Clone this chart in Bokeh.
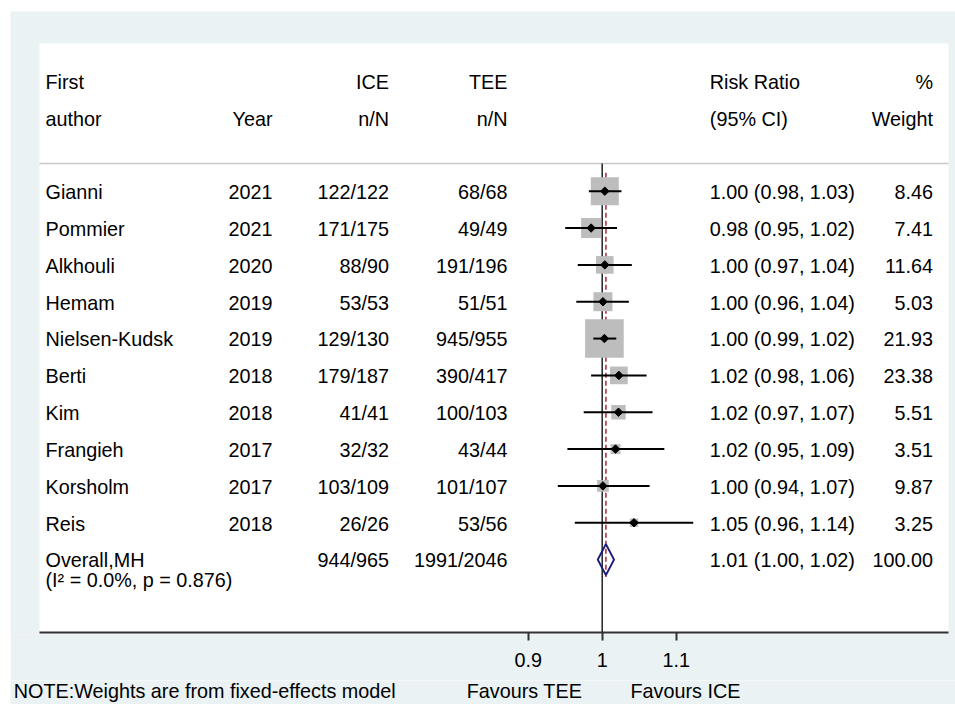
from bokeh.plotting import figure
from bokeh.models import Range1d, ColumnDataSource, FixedTicker, BoxAnnotation
from bokeh.layouts import column
from bokeh.core.properties import value
from bokeh.embed import file_html
from bokeh.resources import INLINE

# ---------------- data ----------------
authors = ["Gianni", "Pommier", "Alkhouli", "Hemam", "Nielsen-Kudsk", "Berti",
           "Kim", "Frangieh", "Korsholm", "Reis"]
years = ["2021", "2021", "2020", "2019", "2019", "2018", "2018", "2017", "2017", "2018"]
ice_nN = ["122/122", "171/175", "88/90", "53/53", "129/130", "179/187", "41/41",
          "32/32", "103/109", "26/26"]
tee_nN = ["68/68", "49/49", "191/196", "51/51", "945/955", "390/417", "100/103",
          "43/44", "101/107", "53/56"]
rr_ci_text = ["1.00 (0.98, 1.03)", "0.98 (0.95, 1.02)", "1.00 (0.97, 1.04)",
              "1.00 (0.96, 1.04)", "1.00 (0.99, 1.02)", "1.02 (0.98, 1.06)",
              "1.02 (0.97, 1.07)", "1.02 (0.95, 1.09)", "1.00 (0.94, 1.07)",
              "1.05 (0.96, 1.14)"]
weight_text = ["8.46", "7.41", "11.64", "5.03", "21.93", "23.38", "5.51", "3.51",
               "9.87", "3.25"]
rr = [1.0035, 0.985, 1.0035, 1.001, 1.003, 1.0225, 1.022, 1.018, 1.001, 1.043]
ci_low = [0.982, 0.950, 0.967, 0.965, 0.988, 0.985, 0.975, 0.953, 0.940, 0.963]
ci_high = [1.026, 1.020, 1.040, 1.036, 1.019, 1.060, 1.068, 1.084, 1.064, 1.123]
box_rel_area = [0.526, 0.268, 0.208, 0.242, 1.0, 0.210, 0.141, 0.067, 0.092, 0.048]

overall_label = "Overall,MH"
overall_het = "(I\u00b2 = 0.0%, p = 0.876)"
overall_ice = "944/965"
overall_tee = "1991/2046"
overall_text = "1.01 (1.00, 1.02)"
overall_weight = "100.00"
overall_rr = 1.005
overall_low = 0.994
overall_high = 1.016

ticks = [0.9, 1.0, 1.1]
tick_labels = ["0.9", "1", "1.1"]

footer_note = "NOTE:Weights are from fixed-effects model"
favours_left = "Favours TEE"
favours_right = "Favours ICE"

# ---------------- layout helpers ----------------
FONT = value("Liberation Sans")
FS = value("19.8px")
BG = "#EAF2F3"
PX_PER_UNIT = 740.0
X_ONE_PX = 601.7
PANEL_L, PANEL_R, PANEL_T, PANEL_B = 39.0, 948.0, 43.0, 632.0
FIG_L, FIG_T, FIG_R, SPLIT, FIG_B = 10, 11, 955, 680, 704
FRAME_B = 634
ROW0_PX, ROW_STEP = 190.7, 36.84
BASE_FIX = -7.5  # rendered alphabetic baseline correction


def px2x(px):
    return 1 + (px - X_ONE_PX) / PX_PER_UNIT


def py2y(py):
    return (py - ROW0_PX) / ROW_STEP


n = len(authors)
rows = list(range(n))
overall_row = n

p = figure(width=FIG_R - FIG_L, height=SPLIT - FIG_T,
           x_range=Range1d(px2x(FIG_L), px2x(FIG_R)),
           y_range=Range1d(py2y(FRAME_B), py2y(FIG_T)),
           output_backend="svg", toolbar_location=None,
           y_axis_location=None,
           min_border_left=0, min_border_right=0, min_border_top=0,
           min_border_bottom=SPLIT - FRAME_B,
           background_fill_color=BG, border_fill_color=BG,
           outline_line_color=None)
p.grid.visible = False

# white plot panel
p.add_layout(BoxAnnotation(left=px2x(PANEL_L), right=px2x(PANEL_R),
                           top=py2y(PANEL_T), bottom=py2y(PANEL_B),
                           fill_color="white", fill_alpha=1.0, line_color=None,
                           level="underlay"))

# axis (line drawn separately so it spans only the panel)
ax = p.xaxis[0]
ax.ticker = FixedTicker(ticks=ticks)
ax.major_label_overrides = {t: l for t, l in zip(ticks, tick_labels)}
ax.axis_line_color = None
ax.major_tick_line_color = "#333333"
ax.major_tick_line_width = 2
ax.major_tick_out = 6
ax.major_tick_in = 2
ax.minor_tick_line_color = None
ax.major_label_text_font = "Liberation Sans"
ax.major_label_text_font_size = "19.8px"
ax.major_label_text_color = "black"
ax.major_label_standoff = 12

p.segment(x0=[px2x(PANEL_L)], y0=[py2y(PANEL_B)], x1=[px2x(PANEL_R)], y1=[py2y(PANEL_B)],
          line_color="#333333", line_width=2)

# header separator
p.segment(x0=[px2x(PANEL_L)], y0=[py2y(163)], x1=[px2x(PANEL_R)], y1=[py2y(163)],
          line_color="#c8c8c8", line_width=1.5)

# reference line at 1
p.segment(x0=[1.0], y0=[py2y(163)], x1=[1.0], y1=[py2y(PANEL_B)],
          line_color="#222222", line_width=1.5)

# overall dashed line
p.segment(x0=[overall_rr], y0=[-0.5], x1=[overall_rr], y1=[overall_row + 0.47],
          line_color="#b8485a", line_width=1.8, line_dash="5 3")

# boxes
src = ColumnDataSource(dict(x=rr, y=rows, lo=ci_low, hi=ci_high,
                            s=[38.6 * (a ** 0.5) for a in box_rel_area]))
p.scatter(x="x", y="y", size="s", marker="square", source=src,
          fill_color="#bdbdbd", line_color=None)
p.segment(x0="lo", y0="y", x1="hi", y1="y", source=src, line_color="black", line_width=2)
p.scatter(x="x", y="y", size=6, marker="square", angle=0.785398, source=src,
          fill_color="black", line_color="black")

# overall diamond
h = 15.5 / ROW_STEP
p.patch(x=[overall_low, overall_rr, overall_high, overall_rr],
        y=[overall_row, overall_row - h, overall_row, overall_row + h],
        fill_color="white", fill_alpha=0.0, line_color="#1c1c80", line_width=2)


def col(fig, xpx, texts, ys, align, yoff):
    s = ColumnDataSource(dict(x=[px2x(xpx)] * len(texts), y=ys, t=texts))
    fig.text(x="x", y="y", text="t", source=s, text_font=FONT, text_font_size=FS,
             text_align=align, text_baseline="alphabetic", y_offset=yoff + BASE_FIX,
             text_color="black")


# headers (baselines in pixels)
h1 = py2y(89.3)
h2 = py2y(126.0)
col(p, 45, ["First", "author"], [h1, h2], "left", 0)
col(p, 272, ["Year"], [h2], "right", 0)
col(p, 388.5, ["ICE", "n/N"], [h1, h2], "right", 0)
col(p, 507, ["TEE", "n/N"], [h1, h2], "right", 0)
col(p, 709.3, ["Risk Ratio", "(95% CI)"], [h1, h2], "left", 0)
col(p, 932.5, ["%", "Weight"], [h1, h2], "right", 0)

# rows
RB = 8.3
col(p, 45, authors + [overall_label], rows + [overall_row], "left", RB)
col(p, 45, [overall_het], [overall_row], "left", RB + 19.4)
col(p, 272, years, rows, "right", RB)
col(p, 388.5, ice_nN + [overall_ice], rows + [overall_row], "right", RB)
col(p, 507, tee_nN + [overall_tee], rows + [overall_row], "right", RB)
col(p, 709.3, rr_ci_text + [overall_text], rows + [overall_row], "left", RB)
col(p, 932.5, weight_text + [overall_weight], rows + [overall_row], "right", RB)

# footer strip below the axis
f = figure(width=FIG_R - FIG_L, height=FIG_B - SPLIT,
           x_range=Range1d(px2x(FIG_L), px2x(FIG_R)),
           y_range=Range1d(FIG_B, SPLIT),
           output_backend="svg", toolbar_location=None,
           x_axis_location=None, y_axis_location=None,
           min_border=0, min_border_left=0, min_border_right=0,
           min_border_top=0, min_border_bottom=0,
           background_fill_color=BG, border_fill_color=BG,
           outline_line_color=None)
f.grid.visible = False
col(f, 13.3, [footer_note], [697.5], "left", 0)
col(f, 581.7, [favours_left], [697.5], "right", 0)
col(f, 630.0, [favours_right], [697.5], "left", 0)

layout = column(p, f, spacing=0)
layout.margin = (FIG_T, 0, 0, FIG_L)

open("out.html", "w").write(file_html(layout, INLINE))
